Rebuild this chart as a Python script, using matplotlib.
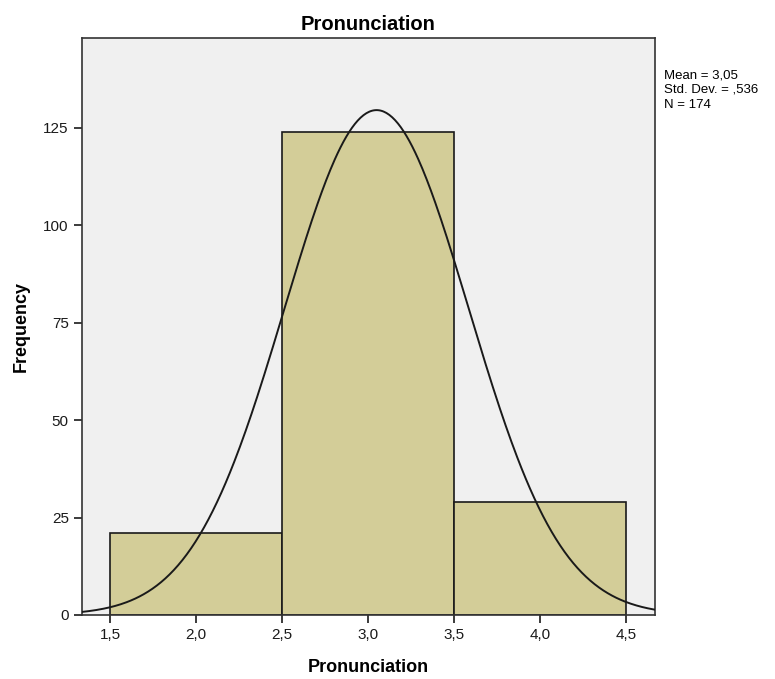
import numpy as np
import matplotlib.pyplot as plt

# histogram bins and counts
bin_edges = [1.5, 2.5, 3.5, 4.5]
counts = [21, 124, 29]
mean = 3.05
sd = 0.536
n = 174
x_ticks = [1.5, 2.0, 2.5, 3.0, 3.5, 4.0, 4.5]
x_ticklabels = ["1,5", "2,0", "2,5", "3,0", "3,5", "4,0", "4,5"]
y_ticks = [0, 25, 50, 75, 100, 125]

plt.rcParams['font.family'] = ['Liberation Sans', 'DejaVu Sans']

fig = plt.figure(figsize=(7.75, 6.79), dpi=100)
ax = fig.add_axes([0.1058, 0.0943, 0.7394, 0.8497])
ax.set_facecolor("#f0f0f0")

lefts = bin_edges[:-1]
widths = np.diff(bin_edges)
ax.bar(lefts, counts, width=widths, align="edge", color="#d3cd98",
       edgecolor="#1a1a1a", linewidth=1.2, zorder=2)

# normal curve scaled to counts
xs = np.linspace(1.337, 4.669, 400)
bw = widths[0]
ys = n * bw / (sd * np.sqrt(2 * np.pi)) * np.exp(-0.5 * ((xs - mean) / sd) ** 2)
ax.plot(xs, ys, color="#1a1a1a", linewidth=1.4, zorder=3)

ax.set_xlim(1.337, 4.669)
ax.set_ylim(0, 148)
ax.set_xticks(x_ticks)
ax.set_xticklabels(x_ticklabels)
ax.set_yticks(y_ticks)
ax.tick_params(direction="out", length=6, width=1.2, labelsize=11, colors="#1a1a1a")
for s in ax.spines.values():
    s.set_color("#333333")
    s.set_linewidth(1.2)

ax.set_title("Pronunciation", fontsize=14.5, fontweight="bold", pad=6)
ax.set_xlabel("Pronunciation", fontsize=13, fontweight="bold", labelpad=12)
ax.set_ylabel("Frequency", fontsize=13, fontweight="bold", labelpad=10)

fig.text(0.857, 0.898, "Mean = 3,05\nStd. Dev. = ,536\nN = 174",
         fontsize=9.5, va="top", ha="left", linespacing=1.3)

fig.savefig("out.png", dpi=100)
